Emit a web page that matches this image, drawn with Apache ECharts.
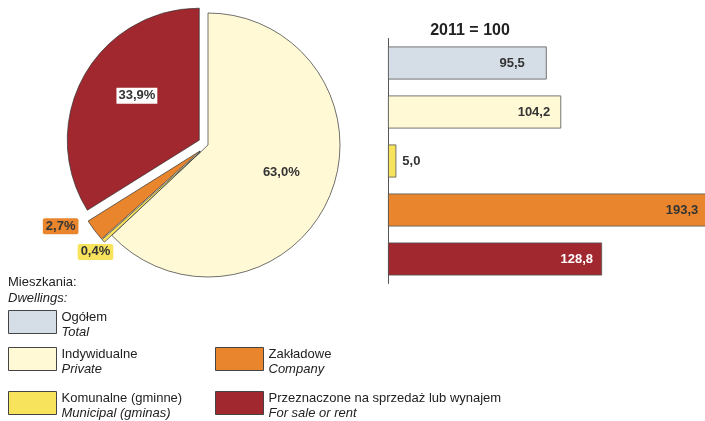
<!DOCTYPE html>
<html><head><meta charset="utf-8">
<script src="https://cdn.jsdelivr.net/npm/echarts@6/dist/echarts.min.js"></script>
<style>html,body{margin:0;padding:0;background:#fff}#c{width:705px;height:421px}</style>
</head><body><div id="c"></div>
<script>
// ---- data ----
const namesPl = ['Ogółem', 'Indywidualne', 'Komunalne (gminne)', 'Zakładowe', 'Przeznaczone na sprzedaż lub wynajem'];
const namesEn = ['Total', 'Private', 'Municipal (gminas)', 'Company', 'For sale or rent'];
const indexValues = [95.5, 104.2, 5.0, 193.3, 128.8];          // 2011 = 100
const pieNames = ['Indywidualne', 'Komunalne (gminne)', 'Zakładowe', 'Przeznaczone na sprzedaż lub wynajem'];
const pieShares = [63.0, 0.4, 2.7, 33.9];                       // %
const barTitle = '2011 = 100';
const legendHeading = ['Mieszkania:', 'Dwellings:'];

// ---- styles ----
const FONT = 'Liberation Sans, Arial, sans-serif';
const colors = {
  'Ogółem': '#d5dee6',
  'Indywidualne': '#fff9d6',
  'Komunalne (gminne)': '#f8e45c',
  'Zakładowe': '#e9862d',
  'Przeznaczone na sprzedaż lub wynajem': '#a1282f'
};
const fmt = v => Number(v).toFixed(1).replace('.', ',');

const pieLabelStyles = {
  'Indywidualne': { position: 'inside', color: '#333' },
  'Komunalne (gminne)': { position: 'outside', color: '#333', backgroundColor: '#f8e45c', padding: [2, 3, 1, 3], borderRadius: 2 },
  'Zakładowe': { position: 'outside', color: '#333', backgroundColor: '#e9862d', padding: [2, 3, 1, 3], borderRadius: 2 },
  'Przeznaczone na sprzedaż lub wynajem': { position: 'inside', color: '#333', backgroundColor: '#fff', padding: [2, 2, 1, 2] }
};
const pieLabelShift = [[10, 0], [15, 11], [-11, -4], [-2, -11]];
const pieSelected = { 'Komunalne (gminne)': true, 'Zakładowe': true, 'Przeznaczone na sprzedaż lub wynajem': true };

const barLabelStyles = [
  { position: 'insideRight', distance: 22, color: '#333' },
  { position: 'insideRight', distance: 11, color: '#333' },
  { position: 'right', distance: 6, color: '#333' },
  { position: 'insideRight', distance: 11, color: '#333' },
  { position: 'insideRight', distance: 9, color: '#fff' }
];

const barSeries = namesPl.map((n, i) => ({
  type: 'bar',
  name: n,
  stack: 'all',
  clip: false,
  xAxisIndex: 0, yAxisIndex: 0,
  barWidth: 33,
  itemStyle: { color: colors[n], borderColor: '#555', borderWidth: 0.8 },
  label: Object.assign({ show: true, fontFamily: FONT, fontSize: 13, fontWeight: 'bold', formatter: p => fmt(p.value) }, barLabelStyles[i]),
  emphasis: { disabled: true },
  data: namesPl.map((_, j) => j === i ? indexValues[i] : '-')
}));

const pieSeries = {
  type: 'pie',
  center: [208, 145],
  radius: [0, 132],
  startAngle: 90,
  clockwise: true,
  selectedMode: 'multiple',
  selectedOffset: 10,
  avoidLabelOverlap: false,
  itemStyle: { borderColor: '#333', borderWidth: 0.7 },
  emphasis: { disabled: true },
  labelLine: { show: false, length: 0, length2: 0 },
  label: { show: true, fontFamily: FONT, fontSize: 13, fontWeight: 'bold', formatter: p => fmt(p.value) + '%' },
  labelLayout: p => ({ dx: pieLabelShift[p.dataIndex][0], dy: pieLabelShift[p.dataIndex][1] }),
  data: pieNames.map((n, i) => ({
    name: n, value: pieShares[i], selected: !!pieSelected[n],
    itemStyle: { color: colors[n] },
    label: pieLabelStyles[n]
  }))
};

const legendPos = [[8, 310], [8, 347], [8, 391], [215, 347], [215, 391]];
const legends = namesPl.map((n, i) => ({
  data: [n],
  left: legendPos[i][0], top: legendPos[i][1],
  padding: 0,
  itemWidth: 48, itemHeight: 23, itemGap: 0,
  selectedMode: false,
  icon: 'rect',
  itemStyle: { borderColor: '#444', borderWidth: 1 },
  formatter: name => '{a|' + name + '}\n{b|' + namesEn[namesPl.indexOf(name)] + '}',
  textStyle: {
    fontFamily: FONT, fontSize: 13, color: '#222', padding: [6, 0, 0, 0],
    rich: {
      a: { fontFamily: FONT, fontSize: 13, color: '#222', lineHeight: 15 },
      b: { fontFamily: FONT, fontSize: 13, color: '#222', fontStyle: 'italic', lineHeight: 15 }
    }
  }
}));

const chart = echarts.init(document.getElementById('c'), null, { renderer: 'canvas' });
chart.setOption({
  animation: false,
  backgroundColor: '#fff',
  title: [
    { text: barTitle, left: 470, top: 23, textAlign: 'center', padding: 0,
      textStyle: { fontFamily: FONT, fontSize: 16, fontWeight: 'bold', color: '#222' } },
    { text: legendHeading[0], subtext: legendHeading[1], left: 8, top: 276, itemGap: 3, padding: 0,
      textStyle: { fontFamily: FONT, fontSize: 13, fontWeight: 'normal', color: '#222' },
      subtextStyle: { fontFamily: FONT, fontSize: 13, fontStyle: 'italic', color: '#222' } }
  ],
  legend: legends,
  grid: { left: 388, top: 38.5, height: 245, width: 332.4, containLabel: false, outerBoundsMode: 'none' },
  xAxis: { type: 'value', min: 0, max: 200, show: false },
  yAxis: {
    type: 'category', data: namesPl, inverse: true,
    axisLine: { show: true, lineStyle: { color: '#555', width: 1 } },
    axisTick: { show: false }, axisLabel: { show: false }, splitLine: { show: false }
  },
  series: barSeries.concat([pieSeries])
});
</script>
</body></html>
